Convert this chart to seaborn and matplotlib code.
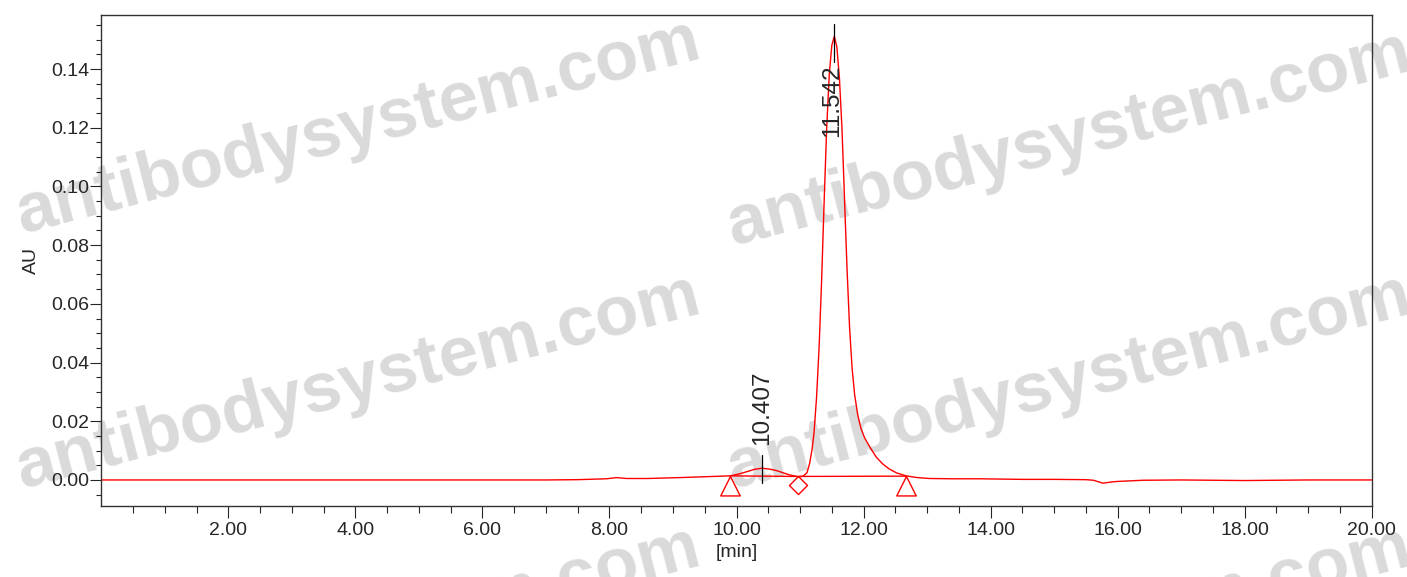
import numpy as np
import matplotlib
matplotlib.use("Agg")
import matplotlib.pyplot as plt
from matplotlib.path import Path
from matplotlib.ticker import FixedLocator, FormatStrFormatter
import pandas as pd
import seaborn as sns

# chromatogram trace (time in min, absorbance in AU)
time_min = [0.0, 1.0, 2.0, 3.0, 4.0, 5.0, 6.0, 7.0, 7.5, 7.95, 8.11, 8.27,
            8.6, 9.1, 9.5, 9.9, 10.05, 10.16, 10.28, 10.40, 10.52, 10.63,
            10.74, 10.84, 10.97, 11.05, 11.11, 11.15, 11.19, 11.22, 11.26,
            11.30, 11.34, 11.38, 11.42, 11.46, 11.50, 11.54, 11.58, 11.62,
            11.66, 11.70, 11.74, 11.78, 11.82, 11.86, 11.91, 11.96, 12.02,
            12.10, 12.20, 12.30, 12.40, 12.52, 12.67, 12.85, 13.04, 13.4,
            13.83, 14.5, 15.0, 15.5, 15.62, 15.77, 15.9, 16.0, 16.4, 17.0,
            18.0, 19.0, 20.0]
absorbance = [0.0, 0.0, 0.0, 0.0, 0.0, 0.0, 0.0, 0.0, 0.0001, 0.0004, 0.0008,
              0.0005, 0.0005, 0.0008, 0.0011, 0.0014, 0.0021, 0.0028, 0.0036,
              0.0040, 0.0037, 0.0032, 0.0024, 0.0017, 0.0011, 0.0013, 0.0025,
              0.0055, 0.0105, 0.0160, 0.0280, 0.0450, 0.0680, 0.0950, 0.1200,
              0.1380, 0.1480, 0.1512, 0.1475, 0.1370, 0.1200, 0.0960, 0.0720,
              0.0520, 0.0380, 0.0290, 0.0220, 0.0175, 0.0142, 0.0112, 0.0078,
              0.0055, 0.0038, 0.0024, 0.0014, 0.0008, 0.0005, 0.0004, 0.0004,
              0.0002, 0.0002, 0.0001, -0.0001, -0.0011, -0.0007, -0.0005,
              -0.0001, 0.0, -0.0002, 0.0, 0.0]

peak_times = [10.407, 11.542]
peak_labels = ["10.407", "11.542"]

# integration baseline and its start / valley / end marks
baseline_t = [9.90, 10.97, 12.67]
baseline_au = [0.0014, 0.0012, 0.0013]
mark_kind = ["start", "valley", "end"]

x_major = [2, 4, 6, 8, 10, 12, 14, 16, 18, 20]
y_major = [0.00, 0.02, 0.04, 0.06, 0.08, 0.10, 0.12, 0.14]

watermark = "antibodysystem.com"

sns.set_style("ticks")
plt.rcParams["font.family"] = ["Liberation Sans", "DejaVu Sans"]

df = pd.DataFrame({"t": time_min, "au": absorbance})

fig = plt.figure(figsize=(14.07, 5.77), dpi=100)
ax = fig.add_axes([101.3 / 1407, 1 - 505.5 / 577, 1270.4 / 1407, 490.8 / 577])
ax.patch.set_alpha(0)

# watermarks behind the plot
wm_pos = [(359, 128), (359, 383), (359, 635), (1070, 140), (1070, 383), (1070, 635)]
for px, py in wm_pos:
    fig.text(px / 1407, 1 - py / 577, watermark, fontsize=51, fontweight="bold",
             color="#dadada", rotation=14.5, ha="center", va="center",
             rotation_mode="anchor", zorder=-1)

sns.lineplot(data=df, x="t", y="au", ax=ax, color="#ff0000", lw=1.0,
             estimator=None, sort=False)

ax.plot(baseline_t, baseline_au, color="#ff0000", lw=1.0)

tri = Path([(0, 0), (-1, -2), (1, -2), (0, 0)], closed=True)
dia = Path([(0, 0), (-1, -1), (0, -2), (1, -1), (0, 0)], closed=True)
for t, a, k in zip(baseline_t, baseline_au, mark_kind):
    if k == "valley":
        ax.plot(t, a, marker=dia, ms=26, mfc="none", mec="#ff0000", mew=1.0)
    else:
        ax.plot(t, a, marker=tri, ms=28, mfc="none", mec="#ff0000", mew=1.0)

# peak labels
ax.plot([peak_times[0]] * 2, [0.0085, -0.0011], color="black", lw=0.9)
ax.text(peak_times[0], 0.0119, peak_labels[0], rotation=90, ha="center",
        va="bottom", fontsize=17.5)
ax.plot([peak_times[1]] * 2, [0.1555, 0.1425], color="black", lw=0.9)
ax.text(peak_times[1] - 0.03, 0.1167, peak_labels[1], rotation=90, ha="center",
        va="bottom", fontsize=17.5)

ax.set_xlim(0, 20)
ax.set_ylim(-0.0087, 0.1585)
ax.xaxis.set_major_locator(FixedLocator(x_major))
ax.xaxis.set_minor_locator(FixedLocator([m for m in np.arange(0.5, 20, 0.5) if m % 2 != 0]))
ax.yaxis.set_major_locator(FixedLocator(y_major))
ax.yaxis.set_minor_locator(FixedLocator([m for m in np.arange(-0.005, 0.158, 0.005)
                                          if abs(round(m / 0.02) * 0.02 - m) > 1e-6]))
ax.xaxis.set_major_formatter(FormatStrFormatter("%.2f"))
ax.yaxis.set_major_formatter(FormatStrFormatter("%.2f"))

ax.tick_params(axis="x", which="major", length=8.6, width=0.8, pad=3, labelsize=14)
ax.tick_params(axis="x", which="minor", length=5, width=0.8)
ax.tick_params(axis="y", which="major", length=8, width=0.8, pad=0.5, labelsize=14)
ax.tick_params(axis="y", which="minor", length=3.6, width=0.8)

for s in ax.spines.values():
    s.set_visible(True)
    s.set_color("#333333")
    s.set_linewidth(1.0)

ax.set_xlabel("[min]", fontsize=14, labelpad=4)
ax.set_ylabel("AU", fontsize=14, labelpad=8)

fig.savefig("out.png", dpi=100)
